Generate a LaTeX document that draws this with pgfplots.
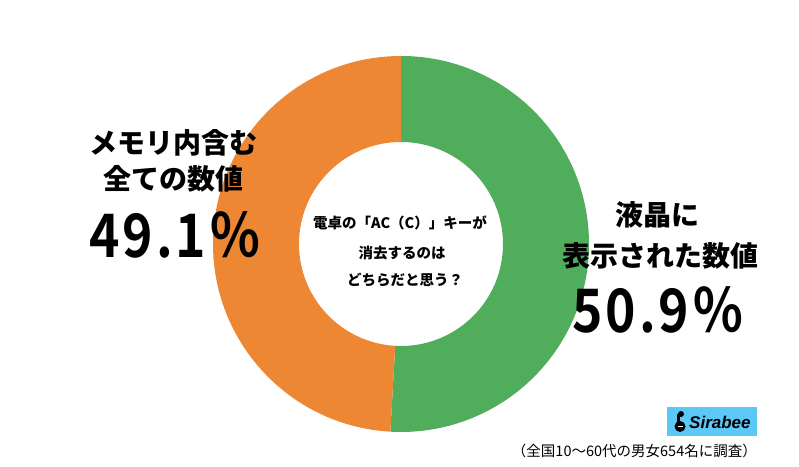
\documentclass[border=0pt]{standalone}
\usepackage{pgfplots}
\pgfplotsset{compat=1.18}
\usepackage{pgfplotstable}
\usepackage{fontspec}
\setmainfont{Liberation Sans}
\newfontfamily\cjk{Noto Sans CJK JP}[BoldFont={Noto Sans CJK JP Black}]
\newfontfamily\cjknum{Noto Sans CJK JP Bold}[LetterSpace=5, FakeStretch=0.86]
\definecolor{cgreen}{RGB}{80,173,91}
\definecolor{corange}{RGB}{237,135,52}
\definecolor{cblue}{RGB}{91,200,245}
\pgfplotstableread{
label value
lcd 50.9
memory 49.1
}\datatable
\begin{document}
\begin{tikzpicture}
\pgfplotstablegetelem{0}{value}\of\datatable\let\vA\pgfplotsretval
\pgfplotstablegetelem{1}{value}\of\datatable\let\vB\pgfplotsretval
\begin{axis}[x=1bp, y=1bp, xmin=0, xmax=799, ymin=0, ymax=467, hide axis, clip=false]
\pgfmathsetmacro{\cx}{401}
\pgfmathsetmacro{\cy}{223}
\pgfmathsetmacro{\R}{188}
\pgfmathsetmacro{\r}{102}
\pgfmathsetmacro{\aS}{90}
\pgfmathsetmacro{\aM}{90-3.6*\vA}
\pgfmathsetmacro{\aE}{\aM-3.6*\vB}
% green sector
\fill[cgreen] (axis cs:{\cx+\R*cos(\aS)},{\cy+\R*sin(\aS)}) arc[start angle=\aS, end angle=\aM, radius=\R bp]
  -- (axis cs:{\cx+\r*cos(\aM)},{\cy+\r*sin(\aM)}) arc[start angle=\aM, end angle=\aS, radius=\r bp] -- cycle;
% orange sector
\fill[corange] (axis cs:{\cx+\R*cos(\aM)},{\cy+\R*sin(\aM)}) arc[start angle=\aM, end angle=\aE, radius=\R bp]
  -- (axis cs:{\cx+\r*cos(\aE)},{\cy+\r*sin(\aE)}) arc[start angle=\aE, end angle=\aM, radius=\r bp] -- cycle;
% center text
\node[font=\cjk\bfseries\fontsize{14.5bp}{17bp}\selectfont] at (axis cs:400,244) {電卓の「AC（C）」キーが};
\node[font=\cjk\bfseries\fontsize{14.5bp}{17bp}\selectfont] at (axis cs:402,214) {消去するのは};
\node[font=\cjk\bfseries\fontsize{14.5bp}{17bp}\selectfont] at (axis cs:405,187) {どちらだと思う？};
% left labels
\node[font=\cjk\bfseries\fontsize{28bp}{34bp}\selectfont] at (axis cs:173,324) {メモリ内含む};
\node[font=\cjk\bfseries\fontsize{28bp}{34bp}\selectfont] at (axis cs:173,288) {全ての数値};
\node[font=\cjknum\fontsize{60bp}{64bp}\selectfont] at (axis cs:175,232) {\vB ％};
% right labels
\node[font=\cjk\bfseries\fontsize{28bp}{34bp}\selectfont] at (axis cs:657,252) {液晶に};
\node[font=\cjk\bfseries\fontsize{28bp}{34bp}\selectfont] at (axis cs:660,211) {表示された数値};
\node[font=\cjknum\fontsize{60bp}{64bp}\selectfont] at (axis cs:658,157) {\vA ％};
% logo
\fill[cblue] (axis cs:667,31) rectangle (axis cs:757,60);
\fill[black] (axis cs:680,40.5) circle[radius=5.5bp];
\fill[black] (axis cs:677,43) rectangle (axis cs:680,53);
\fill[black] (axis cs:681,53) circle[radius=3bp];
\draw[white, line width=1bp] (axis cs:677.5,40.5) -- (axis cs:682.5,40.5);
\node[anchor=west, font=\bfseries\itshape\fontsize{17bp}{19bp}\selectfont, inner sep=0pt] at (axis cs:689,45) {Sirabee};
% footnote
\node[anchor=east, inner sep=0pt, font=\cjk\fontsize{14.5bp}{17bp}\selectfont] at (axis cs:757,16) {（全国10〜60代の男女654名に調査）};
\path (axis cs:0,0) rectangle (axis cs:799,467);
\end{axis}
\end{tikzpicture}
\end{document}
